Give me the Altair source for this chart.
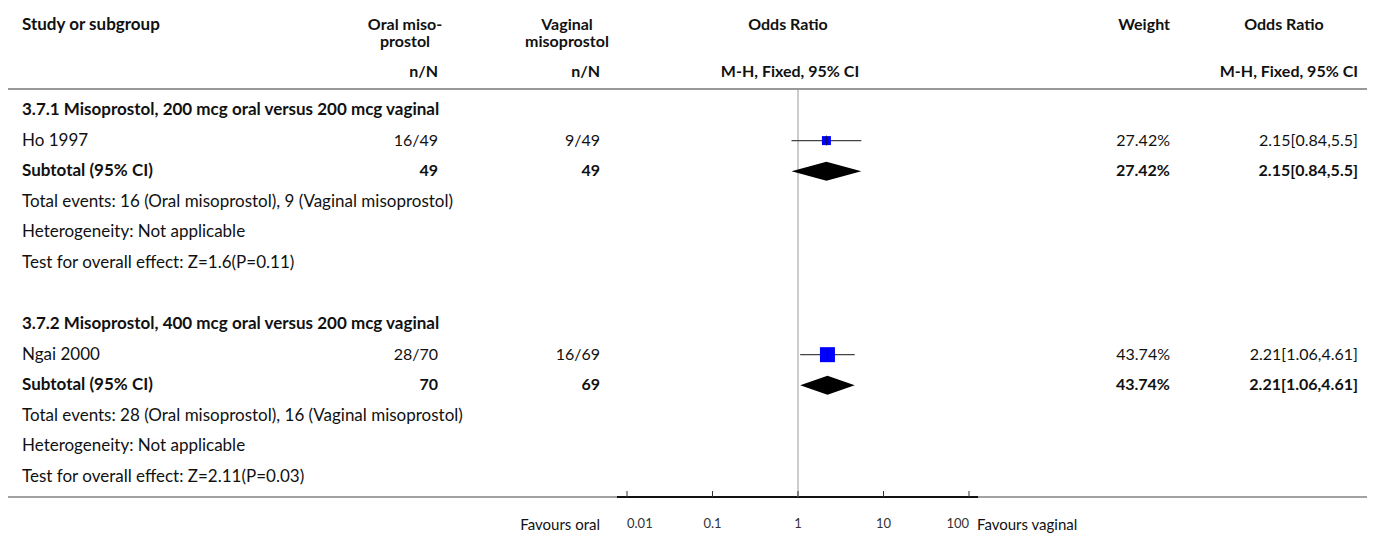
import altair as alt
import pandas as pd

FONT = "Lato"
INK = "#111111"
BODY = 17
NUM = 16

# ---------------- data ----------------
row_labels = [
    "3.7.1 Misoprostol, 200 mcg oral versus 200 mcg vaginal",
    "Ho 1997",
    "Subtotal (95% CI)",
    "Total events: 16 (Oral misoprostol), 9 (Vaginal misoprostol)",
    "Heterogeneity: Not applicable",
    "Test for overall effect: Z=1.6(P=0.11)",
    "",
    "3.7.2 Misoprostol, 400 mcg oral versus 200 mcg vaginal",
    "Ngai 2000",
    "Subtotal (95% CI)",
    "Total events: 28 (Oral misoprostol), 16 (Vaginal misoprostol)",
    "Heterogeneity: Not applicable",
    "Test for overall effect: Z=2.11(P=0.03)",
]
row_bold = [True, False, True, False, False, False, False,
            True, False, True, False, False, False]
oral_col = ["", "16/49", "49", "", "", "", "", "", "28/70", "70", "", "", ""]
vag_col = ["", "9/49", "49", "", "", "", "", "", "16/69", "69", "", "", ""]
weight_col = ["", "27.42%", "27.42%", "", "", "", "", "", "43.74%", "43.74%", "", "", ""]
or_col = ["", "2.15[0.84,5.5]", "2.15[0.84,5.5]", "", "", "", "", "",
          "2.21[1.06,4.61]", "2.21[1.06,4.61]", "", "", ""]

study_row = [1, 8]
study_or = [2.15, 2.21]
study_lo = [0.84, 1.06]
study_hi = [5.5, 4.61]
study_weight = [27.42, 43.74]

sub_row = [2, 9]
sub_or = [2.15, 2.21]
sub_lo = [0.84, 1.06]
sub_hi = [5.5, 4.61]

tick_values = [0.01, 0.1, 1, 10, 100]
tick_labels = ["0.01", "0.1", "1", "10", "100"]

# ---------------- frames ----------------
rows = pd.DataFrame({
    "row": list(range(len(row_labels))),
    "label": row_labels,
    "bold": row_bold,
    "oral": oral_col,
    "vag": vag_col,
    "weight": weight_col,
    "ortxt": or_col,
})
studies = pd.DataFrame({"row": study_row, "or": study_or, "lo": study_lo,
                        "hi": study_hi, "w": study_weight})
HALF = 0.31  # diamond half height in row units (style)
dia = []
for i, r in enumerate(sub_row):
    dia.append({"g": i, "x": sub_lo[i], "y": r, "y2": r})
    dia.append({"g": i, "x": sub_or[i], "y": r - HALF, "y2": r + HALF})
    dia.append({"g": i, "x": sub_hi[i], "y": r, "y2": r})
diamonds = pd.DataFrame(dia)
ticks = pd.DataFrame({"v": tick_values, "lab": tick_labels,
                      "pos": ["first"] + ["mid"] * (len(tick_values) - 2) + ["last"]})

# ---------------- scales ----------------
X = alt.Scale(type="log", domain=[0.01, 100], range=[619, 961])
Y = alt.Scale(domain=[0, 12], range=[102, 469], zero=False, nice=False)


def xq(f):
    return alt.X(f, type="quantitative", scale=X, axis=None)


def yq(f):
    return alt.Y(f, type="quantitative", scale=Y, axis=None)


def txt(t, x, y, align="left", bold=False, size=16, color=INK):
    return alt.Chart(pd.DataFrame({"t": [t]})).mark_text(
        font=FONT, fontSize=size, fontWeight="bold" if bold else "normal",
        align=align, baseline="middle", color=color,
    ).encode(text="t:N", x=alt.value(x), y=alt.value(y))


layers = []

# header
H1, H2, H3 = 17, 34, 64
layers += [
    txt("Study or subgroup", 14, H1, bold=True, size=BODY),
    txt("Oral miso-", 397, H1, "center", True),
    txt("prostol", 397, H2, "center", True),
    txt("n/N", 430, H3, "right", True),
    txt("Vaginal", 559, H1, "center", True),
    txt("misoprostol", 559, H2, "center", True),
    txt("n/N", 592, H3, "right", True),
    txt("Odds Ratio", 780, H1, "center", True),
    txt("M-H, Fixed, 95% CI", 782, H3, "center", True),
    txt("Weight", 1162, H1, "right", True),
    txt("Odds Ratio", 1276, H1, "center", True),
    txt("M-H, Fixed, 95% CI", 1350, H3, "right", True),
]

# horizontal rules
hline = pd.DataFrame({"k": [0]})
layers.append(alt.Chart(hline).mark_rule(color="#333", strokeWidth=1).encode(
    x=alt.value(0), x2=alt.value(1359), y=alt.value(81)))
layers.append(alt.Chart(hline).mark_rule(color="#444", strokeWidth=1).encode(
    x=alt.value(0), x2=alt.value(1359), y=alt.value(489)))
layers.append(alt.Chart(hline).mark_rule(color="#111", strokeWidth=2).encode(
    x=alt.value(609), x2=alt.value(970), y=alt.value(489)))

# reference line at OR = 1
layers.append(alt.Chart(pd.DataFrame({"v": [1]})).mark_rule(
    color="#9a9a9a", strokeWidth=1).encode(
    x=xq("v"), y=alt.value(81), y2=alt.value(489)))

# axis ticks and labels (first/last label flush to the tick)
layers.append(alt.Chart(ticks).mark_rule(color="#333", strokeWidth=1).encode(
    x=xq("v"), y=alt.value(483), y2=alt.value(489)))
for pos, al in (("first", "left"), ("mid", "center"), ("last", "right")):
    layers.append(alt.Chart(ticks).transform_filter(alt.datum.pos == pos).mark_text(
        font=FONT, fontSize=13, color="#333", baseline="middle", align=al).encode(
        x=xq("v"), y=alt.value(516), text="lab:N"))
layers += [
    txt("Favours oral", 592, 517, "right", size=15),
    txt("Favours vaginal", 969, 517, "left", size=15),
]

# row text columns
base = alt.Chart(rows)
for bold in (False, True):
    sub = base.transform_filter(alt.datum.bold == bold)
    w = "bold" if bold else "normal"
    kw = dict(font=FONT, fontWeight=w, baseline="middle", color=INK)
    layers.append(sub.mark_text(align="left", fontSize=BODY, **kw).encode(
        x=alt.value(14), y=yq("row"), text="label:N"))
    layers.append(sub.mark_text(align="right", fontSize=NUM, **kw).encode(
        x=alt.value(430), y=yq("row"), text="oral:N"))
    layers.append(sub.mark_text(align="right", fontSize=NUM, **kw).encode(
        x=alt.value(592), y=yq("row"), text="vag:N"))
    layers.append(sub.mark_text(align="right", fontSize=NUM, **kw).encode(
        x=alt.value(1162), y=yq("row"), text="weight:N"))
    layers.append(sub.mark_text(align="right", fontSize=NUM, **kw).encode(
        x=alt.value(1350), y=yq("row"), text="ortxt:N"))

# study CIs, squares, centre ticks
st = alt.Chart(studies)
layers.append(st.mark_rule(color="#444", strokeWidth=1.3).encode(
    x=xq("lo"), x2="hi", y=yq("row")))
layers.append(st.mark_square(color="#0000ff", opacity=1).encode(
    x=xq("or"), y=yq("row"),
    size=alt.Size("w:Q", scale=alt.Scale(domain=[27.42, 43.74], range=[81, 225]),
                  legend=None)))
layers.append(st.mark_tick(color="#111", thickness=1, orient="vertical").encode(
    x=xq("or"), y=yq("row"),
    size=alt.Size("w:Q", scale=alt.Scale(domain=[27.42, 43.74], range=[10, 12]),
                  legend=None)))

# subtotal diamonds
layers.append(alt.Chart(diamonds).mark_area(
    color="#000", opacity=1, orient="vertical").encode(
    x=xq("x"), y=yq("y"), y2="y2", detail="g:N"))

chart = alt.layer(*layers).resolve_scale(size="independent").properties(
    width=1359, height=525, padding=0,
    autosize=alt.AutoSizeParams(type="none"),
).configure_view(stroke=None)

chart.save("out.html", embed_options={"renderer": "svg", "actions": False})
